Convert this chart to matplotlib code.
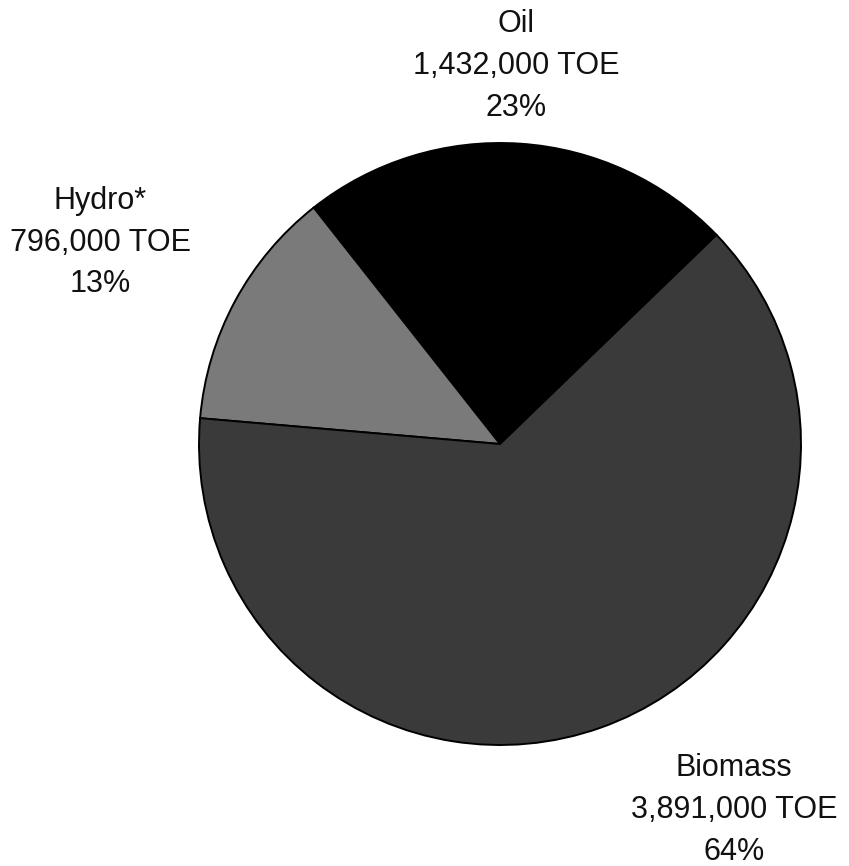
import matplotlib
matplotlib.use("Agg")
import matplotlib.pyplot as plt

# energy supply by source
sources = ["Oil", "Hydro*", "Biomass"]
toe = [1432000, 796000, 3891000]
colors = ["#000000", "#7a7a7a", "#3a3a3a"]

W, H = 849, 866
fig = plt.figure(figsize=(W / 100, H / 100), dpi=100)
fig.patch.set_facecolor("white")

# pie centre ~ (500, 444) px, radius ~ 301 px
cx, cy, r = 500, 444, 301
ax = fig.add_axes([(cx - r) / W, (H - cy - r) / H, 2 * r / W, 2 * r / H])
ax.pie(toe, colors=colors, startangle=44, counterclock=True,
       wedgeprops=dict(edgecolor="black", linewidth=1.4))
ax.set_xlim(-1, 1)
ax.set_ylim(-1, 1)
ax.axis("off")

# label centres in pixels (x, y of middle line)
label_pos = [(516, 66), (100, 243), (734, 810)]
total = sum(toe)
for name, v, (px, py) in zip(sources, toe, label_pos):
    pct = round(100 * v / total)
    txt = f"{name}\n{v:,} TOE\n{pct}%"
    fig.text(px / W, 1 - py / H, txt, ha="center", va="center",
             fontsize=22, family="Liberation Sans", linespacing=1.5,
             color="#111111")

fig.savefig("out.png", dpi=100, facecolor="white")
